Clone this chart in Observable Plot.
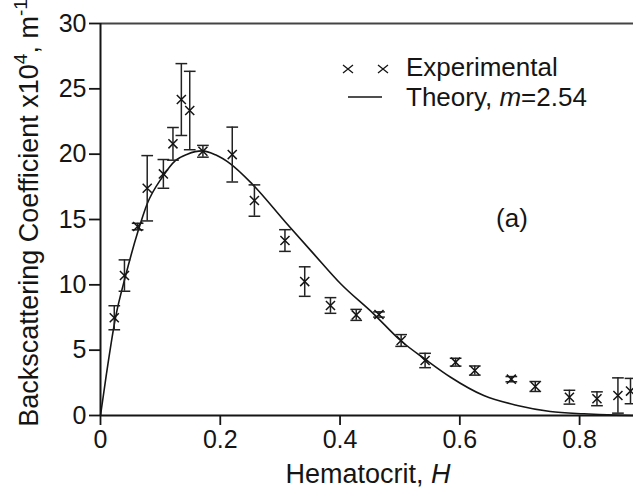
<!DOCTYPE html>
<html><head><meta charset="utf-8">
<script src="https://cdn.jsdelivr.net/npm/d3@7"></script>
<script src="https://cdn.jsdelivr.net/npm/@observablehq/plot@0.6"></script>
<style>
body{margin:0;background:#fff;}
#chart{width:633px;height:493px;overflow:hidden;}
</style></head><body><div id="chart"></div>
<script>
// Experimental points
const hematocrit = [0.023, 0.040, 0.062, 0.078, 0.105, 0.121, 0.135, 0.149, 0.171, 0.220, 0.257, 0.308, 0.341, 0.384, 0.427, 0.465, 0.502, 0.542, 0.593, 0.625, 0.686, 0.726, 0.783, 0.829, 0.864, 0.885];
const backscatter = [7.48, 10.71, 14.46, 17.39, 18.49, 20.79, 24.18, 23.34, 20.22, 19.97, 16.45, 13.39, 10.25, 8.42, 7.70, 7.73, 5.74, 4.21, 4.08, 3.44, 2.78, 2.22, 1.40, 1.28, 1.53, 1.87];
const errorBar = [0.92, 1.20, 0.25, 2.50, 1.10, 1.25, 2.75, 3.00, 0.45, 2.10, 1.20, 0.83, 1.13, 0.60, 0.42, 0.20, 0.45, 0.55, 0.30, 0.35, 0.20, 0.38, 0.53, 0.53, 1.35, 0.97];
// Theory curve, m = 2.54
const theoryH = [0, 0.010, 0.025, 0.042, 0.063, 0.078, 0.103, 0.125, 0.145, 0.170, 0.192, 0.217, 0.253, 0.309, 0.356, 0.401, 0.456, 0.501, 0.545, 0.584, 0.640, 0.696, 0.751, 0.807, 0.860, 0.890];
const theoryValue = [0, 3.2, 7.47, 10.71, 14.15, 16.2, 18.23, 19.51, 20.0, 20.25, 19.95, 19.26, 17.73, 14.79, 12.37, 10.08, 7.78, 5.74, 4.21, 2.95, 1.53, 0.77, 0.31, 0.13, 0.03, 0.0];
// Axes
const xTicks = [0, 0.2, 0.4, 0.6, 0.8];
const xTickLabels = ["0", "0.2", "0.4", "0.6", "0.8"];
const yTicks = [0, 5, 10, 15, 20, 25, 30];
const xDomain = [0, 0.89];
const yDomain = [0, 30];
const legendLabels = ["Experimental", "Theory, "];

const points = hematocrit.map((h, i) => ({H: h, v: backscatter[i], e: errorBar[i]}));
const theory = theoryH.map((h, i) => ({H: h, v: theoryValue[i]}));

const cap = {draw(ctx, size) { const w = Math.sqrt(size); ctx.moveTo(-w, 0); ctx.lineTo(w, 0); }};
const ink = "#151515";
const font = "'Liberation Sans', Arial, sans-serif";

const plot = Plot.plot({
  width: 633, height: 493,
  marginLeft: 100, marginRight: 0, marginTop: 23, marginBottom: 78,
  style: {fontFamily: font, fontSize: "25px", color: ink, background: "#fff"},
  x: {domain: xDomain, label: null},
  y: {domain: yDomain, label: null},
  marks: [
    Plot.axisX({ticks: xTicks, tickFormat: d => xTickLabels[xTicks.indexOf(d)], tickSize: 10, tickPadding: 5, strokeWidth: 1.8, label: null, fontSize: 25}),
    Plot.axisY({ticks: yTicks, tickSize: 11, tickPadding: 3, strokeWidth: 1.8, label: null, fontSize: 25}),
    Plot.ruleY([yDomain[1]], {stroke: "#444", strokeWidth: 2}),
    Plot.ruleY([0], {stroke: ink, strokeWidth: 2}),
    Plot.ruleX([0], {stroke: ink, strokeWidth: 2}),
    Plot.line(theory, {x: "H", y: "v", curve: "monotone-x", stroke: ink, strokeWidth: 1.6}),
    Plot.ruleX(points, {x: "H", y1: d => d.v - d.e, y2: d => d.v + d.e, stroke: "#222", strokeWidth: 1.5}),
    Plot.dot(points, {x: "H", y: d => d.v + d.e, symbol: cap, r: 3.3, fill: "none", stroke: "#222", strokeWidth: 1.5}),
    Plot.dot(points, {x: "H", y: d => d.v - d.e, symbol: cap, r: 3.3, fill: "none", stroke: "#222", strokeWidth: 1.5}),
    Plot.dot(points, {x: "H", y: "v", symbol: "times", r: 4.2, stroke: ink, strokeWidth: 1.5})
  ]
});
document.getElementById("chart").appendChild(plot);

const svg = d3.select(plot);
// Y axis title
const yt = svg.append("text")
  .attr("transform", "translate(38,213) rotate(-90)")
  .attr("text-anchor", "middle")
  .attr("font-family", font).attr("font-size", 27).attr("fill", ink);
yt.append("tspan").text("Backscattering Coefficient x10");
yt.append("tspan").attr("font-size", 19).attr("dy", -11).text("4");
yt.append("tspan").attr("dy", 11).text(", m");
yt.append("tspan").attr("font-size", 19).attr("dy", -11).text("-1");
// X axis title
const xt = svg.append("text")
  .attr("x", 368).attr("y", 483).attr("text-anchor", "middle")
  .attr("font-family", font).attr("font-size", 27).attr("fill", ink);
xt.append("tspan").text("Hematocrit, ");
xt.append("tspan").attr("font-style", "italic").text("H");
// Legend
const lg = svg.append("g").attr("fill", "none").attr("stroke", ink).attr("stroke-width", 1.3);
[348, 383].forEach(cx => {
  lg.append("path").attr("d", `M${cx-5},${69-4}L${cx+5},${69+4}M${cx-5},${69+4}L${cx+5},${69-4}`);
});
lg.append("path").attr("d", "M348,97H382").attr("stroke-width", 1.6);
svg.append("text").attr("x", 406).attr("y", 76).attr("text-anchor", "start")
  .attr("font-family", font).attr("font-size", 26).attr("fill", ink).text(legendLabels[0]);
const lt = svg.append("text").attr("x", 406).attr("y", 106).attr("text-anchor", "start")
  .attr("font-family", font).attr("font-size", 26).attr("fill", ink);
lt.append("tspan").text(legendLabels[1]);
lt.append("tspan").attr("font-style", "italic").text("m");
lt.append("tspan").text("=2.54");
// Panel label
svg.append("text").attr("x", 512).attr("y", 227).attr("text-anchor", "middle")
  .attr("font-family", font).attr("font-size", 26).attr("fill", ink).text("(a)");
</script></body></html>
